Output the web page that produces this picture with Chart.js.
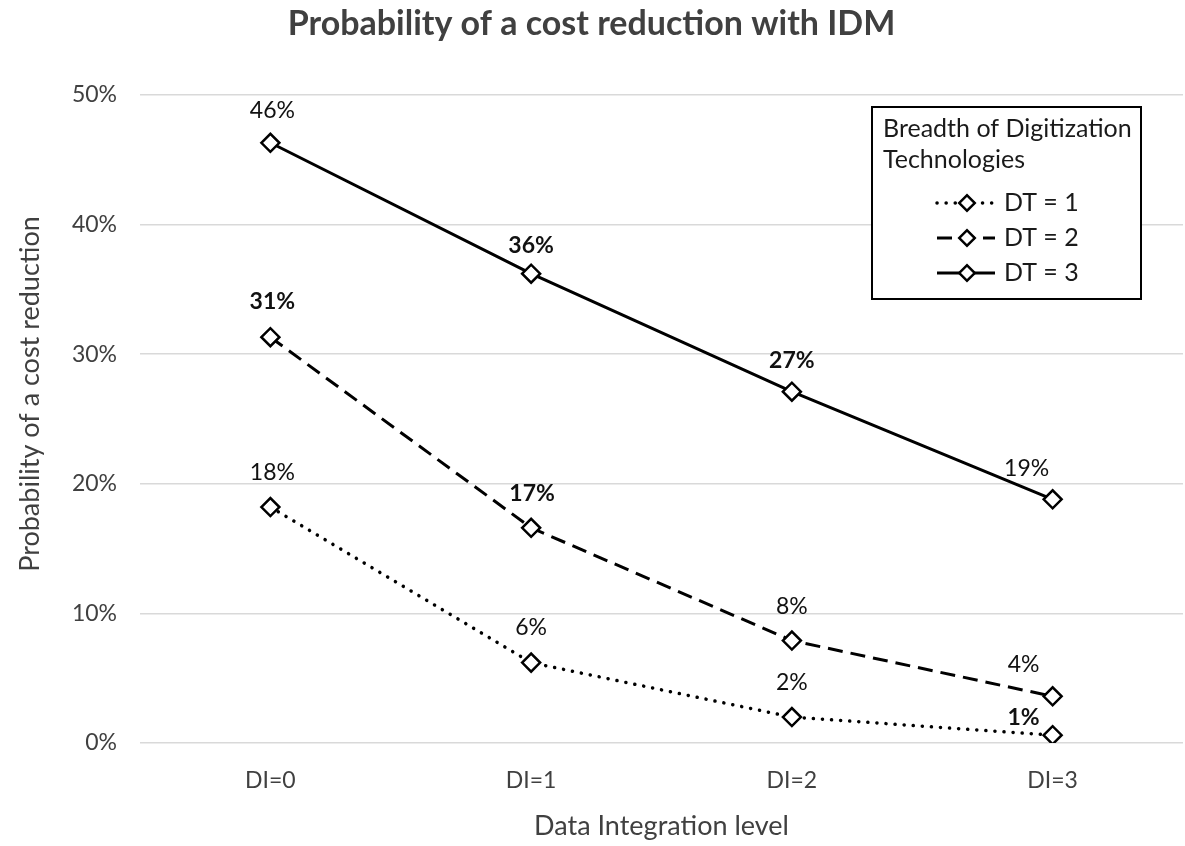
<!DOCTYPE html>
<html>
<head>
<meta charset="utf-8">
<title>Probability of a cost reduction with IDM</title>
<script src="https://cdn.jsdelivr.net/npm/chart.js@4.4.1/dist/chart.umd.min.js"></script>
<style>
  html, body { margin: 0; padding: 0; background: #fff; overflow: hidden; }
  #wrap { width: 1185px; height: 846px; }
  canvas { display: block; }
</style>
</head>
<body>
<div id="wrap"><canvas id="chart"></canvas></div>
<script>
const categories = ['DI=0', 'DI=1', 'DI=2', 'DI=3'];
const seriesNames = ['DT = 1', 'DT = 2', 'DT = 3'];
const dt1 = [18.2, 6.2, 2.0, 0.6];
const dt2 = [31.3, 16.6, 7.9, 3.6];
const dt3 = [46.3, 36.2, 27.1, 18.8];
const yTicks = [0, 10, 20, 30, 40, 50];

// where each value label sits relative to its point, and which ones are bold
const labelOffsets = [
    [[2, -34], [0, -35], [0, -34], [-29, -18]],
    [[2, -36], [1, -34], [0, -34], [-29, -32]],
    [[2, -32], [0, -28], [0, -31], [-26, -31]]
];
const labelBold = [
    [false, false, false, true],
    [true, true, false, false],
    [false, true, true, false]
];

const FONT = 'Lato, "Open Sans", sans-serif';
const TEXT = '#404040';

function makeSeries(label, data, dash, cap, width) {
    return {
        label: label,
        data: data,
        borderColor: '#000',
        borderWidth: width,
        borderDash: dash,
        borderCapStyle: cap,
        tension: 0,
        pointStyle: 'rectRot',
        pointRadius: 9,
        pointBorderWidth: 2.5,
        pointBorderColor: '#000',
        pointBackgroundColor: '#fff'
    };
}

// value labels above the points
const valueLabels = {
    id: 'valueLabels',
    afterDatasetsDraw(chart) {
        const ctx = chart.ctx;
        ctx.save();
        ctx.textAlign = 'center';
        ctx.textBaseline = 'middle';
        ctx.fillStyle = '#111';
        chart.data.datasets.forEach((ds, i) => {
            chart.getDatasetMeta(i).data.forEach((pt, j) => {
                const off = labelOffsets[i][j];
                ctx.font = (labelBold[i][j] ? 'bold ' : '') + '23px ' + FONT;
                ctx.fillText(Math.round(ds.data[j]) + '%', pt.x + off[0], pt.y + off[1]);
            });
        });
        ctx.restore();
    }
};

// y axis title, centred a bit higher than the plot middle like the original
const yTitle = {
    id: 'yTitle',
    afterDraw(chart) {
        const ctx = chart.ctx;
        ctx.save();
        ctx.translate(30, 394);
        ctx.rotate(-Math.PI / 2);
        ctx.fillStyle = TEXT;
        ctx.font = '27px ' + FONT;
        ctx.textAlign = 'center';
        ctx.textBaseline = 'middle';
        ctx.fillText('Probability of a cost reduction', 0, 0);
        ctx.restore();
    }
};

// boxed legend with a two line title
const legendBox = {
    id: 'legendBox',
    afterDraw(chart) {
        const ctx = chart.ctx;
        const x = 872, y = 107, w = 269, h = 192;
        ctx.save();
        ctx.fillStyle = '#fff';
        ctx.fillRect(x, y, w, h);
        ctx.lineWidth = 2;
        ctx.strokeStyle = '#000';
        ctx.strokeRect(x, y, w, h);

        ctx.fillStyle = '#1a1a1a';
        ctx.font = '25px ' + FONT;
        ctx.textAlign = 'left';
        ctx.textBaseline = 'middle';
        ctx.fillText('Breadth of Digitization', x + 11, y + 22);
        ctx.fillText('Technologies', x + 11, y + 53);

        chart.data.datasets.forEach((ds, i) => {
            const ly = y + 96 + i * 35;
            ctx.save();
            ctx.lineWidth = ds.borderWidth;
            ctx.lineCap = ds.borderCapStyle;
            ctx.setLineDash(ds.borderDash);
            ctx.beginPath();
            ctx.moveTo(937, ly);
            ctx.lineTo(995, ly);
            ctx.stroke();
            ctx.restore();

            ctx.save();
            ctx.translate(967, ly);
            ctx.rotate(Math.PI / 4);
            ctx.fillStyle = '#fff';
            ctx.lineWidth = 2.5;
            ctx.fillRect(-5.5, -5.5, 11, 11);
            ctx.strokeRect(-5.5, -5.5, 11, 11);
            ctx.restore();

            ctx.fillStyle = '#1a1a1a';
            ctx.fillText(ds.label, 1004, ly);
        });
        ctx.restore();
    }
};

new Chart(document.getElementById('chart'), {
    type: 'line',
    data: {
        labels: categories,
        datasets: [
            makeSeries(seriesNames[0], dt1, [0.1, 9], 'round', 3.5),
            makeSeries(seriesNames[1], dt2, [15, 8], 'butt', 3),
            makeSeries(seriesNames[2], dt3, [], 'butt', 3)
        ]
    },
    options: {
        responsive: true,
        maintainAspectRatio: false,
        animation: false,
        layout: { autoPadding: false, padding: { left: 0, right: 2, top: 0, bottom: 0 } },
        plugins: {
            legend: { display: false },
            tooltip: { enabled: false },
            title: {
                display: true,
                text: 'Probability of a cost reduction with IDM',
                color: TEXT,
                font: { family: FONT, size: 34, weight: 'bold' },
                padding: { top: 4, bottom: 50 }
            }
        },
        scales: {
            x: {
                offset: true,
                grid: { display: false },
                border: { display: false },
                ticks: { color: TEXT, font: { family: FONT, size: 23 }, padding: 16 },
                title: {
                    display: true,
                    text: 'Data Integration level',
                    color: TEXT,
                    font: { family: FONT, size: 27 },
                    padding: { top: 0, bottom: 4 }
                },
                afterFit(scale) { scale.height = 103; }
            },
            y: {
                min: yTicks[0],
                max: yTicks[yTicks.length - 1],
                afterBuildTicks(scale) { scale.ticks = yTicks.map(v => ({ value: v })); },
                grid: { color: '#d9d9d9', lineWidth: 1.5, drawTicks: false },
                border: { display: false },
                ticks: {
                    color: TEXT,
                    font: { family: FONT, size: 23 },
                    padding: 23,
                    callback: v => v + '%'
                },
                afterFit(scale) { scale.width = 140; }
            }
        }
    },
    plugins: [valueLabels, legendBox, yTitle]
});
</script>
</body>
</html>
